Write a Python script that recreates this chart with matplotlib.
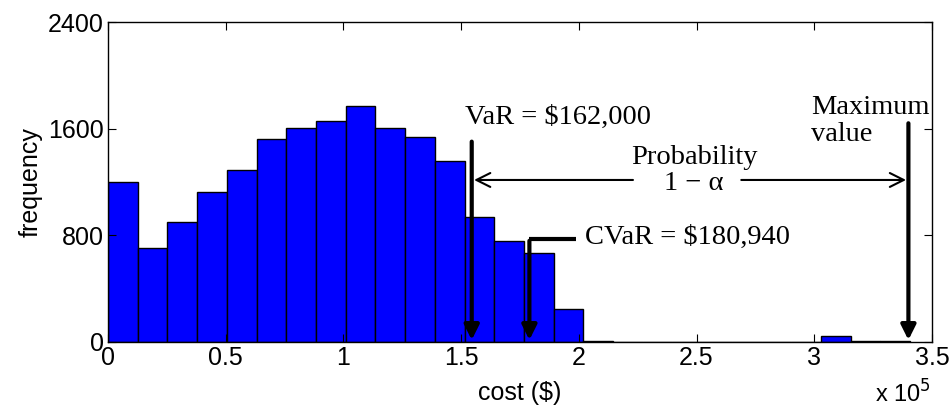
import numpy as np
import matplotlib
matplotlib.use('Agg')
import matplotlib.pyplot as plt

# histogram of cost, x in units of 1e5 $
bin_width = 0.1262
counts = [1204, 708, 899, 1125, 1292, 1523, 1608, 1660, 1776, 1608, 1543, 1357,
          937, 759, 669, 248, 8, 0, 0, 0, 0, 0, 1, 0, 47, 5, 5]
bin_left = np.arange(len(counts)) * bin_width

x_ticks = [0, 0.5, 1, 1.5, 2, 2.5, 3, 3.5]
x_tick_labels = ['0', '0.5', '1', '1.5', '2', '2.5', '3', '3.5']
y_ticks = [0, 800, 1600, 2400]

var_x = 1.545
cvar_x = 1.79
max_x = 3.40

plt.rcParams['font.family'] = ['Liberation Sans', 'DejaVu Sans']
serif = ['Liberation Serif', 'DejaVu Serif']

fig = plt.figure(figsize=(9.5, 4.08), dpi=100)
ax = fig.add_axes([0.1137, 0.1618, 0.8673, 0.7831])

ax.bar(bin_left, counts, width=bin_width, align='edge', color='#0000ff',
       edgecolor='black', linewidth=1.0)

ax.set_xlim(0, 3.5)
ax.set_ylim(0, 2400)
ax.set_xticks(x_ticks)
ax.set_xticklabels(x_tick_labels)
ax.set_yticks(y_ticks)
ax.tick_params(direction='in', top=True, right=True, length=6, labelsize=18, pad=3)
for s in ax.spines.values():
    s.set_linewidth(1.0)

ax.set_xlabel('cost ($)', fontsize=18, labelpad=8)
ax.set_ylabel('frequency', fontsize=18, labelpad=4)
fig.text(0.921, 0.0, r'x 10$^5$', fontsize=17, ha='left', va='bottom')

# vertical arrows
thick = dict(arrowstyle='-|>', lw=3, color='black', mutation_scale=22,
             shrinkA=0, shrinkB=0)
ax.annotate('', xy=(var_x, 15), xytext=(var_x, 1505), arrowprops=thick)
ax.annotate('', xy=(cvar_x, 15), xytext=(cvar_x, 760), arrowprops=thick)
ax.annotate('', xy=(max_x, 15), xytext=(max_x, 1643), arrowprops=thick)
ax.plot([cvar_x, 1.99], [772, 772], color='black', lw=3, solid_capstyle='butt')

# probability arrows
thin = dict(arrowstyle='->', lw=1.5, color='black', mutation_scale=25,
            shrinkA=0, shrinkB=0)
ax.annotate('', xy=(var_x + 0.01, 1217), xytext=(2.23, 1217), arrowprops=thin)
ax.annotate('', xy=(max_x - 0.01, 1217), xytext=(2.69, 1217), arrowprops=thin)

ax.text(1.515, 1685, 'VaR = \\$162,000', family=serif, fontsize=20.5, va='center', ha='left')
ax.text(2.025, 785, 'CVaR = \\$180,940', family=serif, fontsize=20.5, va='center', ha='left')
ax.text(2.49, 1385, 'Probability', family=serif, fontsize=20.5, va='center', ha='center')
ax.text(2.49, 1190, '1 \u2212 \u03b1', family=serif, fontsize=20.5, va='center', ha='center')
ax.text(2.985, 1855, 'Maximum\nvalue', family=serif, fontsize=20.5, va='top', ha='left',
        linespacing=1.1)

fig.savefig('out.png', dpi=100)
